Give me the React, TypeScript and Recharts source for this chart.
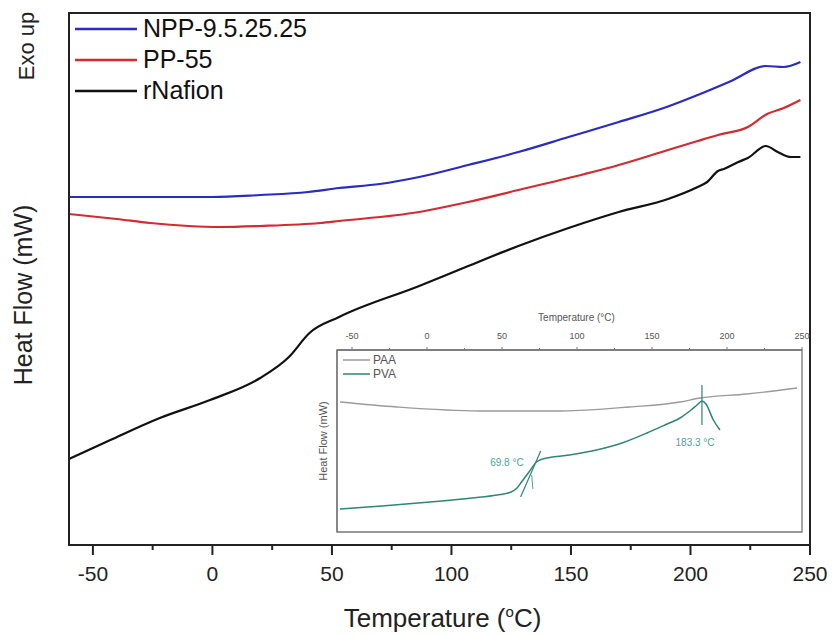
import React from "react";
import {
  LineChart,
  Line,
  XAxis,
  YAxis,
  Legend,
  ReferenceArea,
  ReferenceLine,
  ReferenceDot,
} from "recharts";

// main DSC traces (heat flow, arbitrary offset units, exo up)
const nppTemp = [-60, -40, -20, 0, 20, 40, 53, 70, 86.5, 107, 128, 149, 170, 190, 203, 217, 231.5, 239, 246];
const nppFlow = [3.48, 3.48, 3.48, 3.48, 3.5, 3.53, 3.57, 3.61, 3.68, 3.8, 3.93, 4.08, 4.23, 4.38, 4.5, 4.64, 4.79, 4.78, 4.83];

const pp55Temp = [-60, -40, -26, -10, 3, 20, 45, 53, 86.5, 107, 128, 149, 170, 190.6, 203, 211.5, 224, 232, 239, 246];
const pp55Flow = [3.31, 3.26, 3.22, 3.19, 3.18, 3.19, 3.22, 3.24, 3.33, 3.43, 3.55, 3.67, 3.8, 3.95, 4.04, 4.1, 4.18, 4.31, 4.37, 4.45];

const nafTemp = [-60, -42.7, -22, -1, 20, 32, 40.6, 53, 86.5, 107, 128, 149, 170, 190.6, 203, 207, 211.5, 214, 220, 224, 231.5, 236.5, 242, 246];
const nafFlow = [0.86, 1.05, 1.27, 1.45, 1.67, 1.88, 2.12, 2.28, 2.59, 2.79, 2.99, 3.17, 3.33, 3.46, 3.58, 3.63, 3.74, 3.76, 3.83, 3.87, 3.99, 3.93, 3.88, 3.88];

// inset traces
const paaTemp = [-58, -20, 35, 90, 135, 168.7, 182, 213, 246.7];
const paaFlow = [13.0, 12.5, 12.1, 12.1, 12.5, 13.0, 13.4, 13.8, 14.4];

const pvaTemp = [-58, -30, 2, 30, 46.7, 56, 60, 63, 68, 73, 77, 95, 113, 130, 146.7, 160, 168.7, 176, 180, 183.3, 186, 190.9, 195.3];
const pvaFlow = [2.3, 2.6, 3.0, 3.4, 3.7, 4.0, 4.4, 5.0, 6.0, 7.0, 7.3, 7.7, 8.2, 8.9, 9.9, 10.8, 11.4, 12.2, 12.7, 13.1, 12.8, 11.2, 10.2];

// tangent / marker segments drawn in the inset
const tgLineTemp = [62.4, 75.8];
const tgLineFlow = [3.5, 8.1];
const tgMarkTemp = [69.8, 70.6];
const tgMarkFlow = [5.7, 4.3];
const peakTemp = [183.3, 183.3];
const peakFlow = [10.7, 14.7];

const noteText = ["69.8 °C", "183.3 °C"];
const noteTemp = [53.3, 178.7];
const noteFlow = [7.0, 9.0];

const majorTicks = [-50, 0, 50, 100, 150, 200, 250];
const minorTicks = [-25, 25, 75, 125, 175, 225];
const allTicks = [...majorTicks, ...minorTicks].sort((a, b) => a - b);

const toPoints = (temps: number[], flows: number[]) =>
  temps.map((t, i) => ({ temp: t, flow: flows[i] }));

const nppData = toPoints(nppTemp, nppFlow);
const pp55Data = toPoints(pp55Temp, pp55Flow);
const nafData = toPoints(nafTemp, nafFlow);
const paaData = toPoints(paaTemp, paaFlow);
const pvaData = toPoints(pvaTemp, pvaFlow);

const seg = (temps: number[], flows: number[]) =>
  temps.map((t, i) => ({ x: t, y: flows[i] }));

const SANS = '"Liberation Sans", Arial, sans-serif';
const NARROW = '"Liberation Sans Narrow", "Liberation Sans", Arial, sans-serif';

const MainXTick = ({ x, y, payload }: any) => {
  const major = majorTicks.includes(payload.value);
  return (
    <g>
      <line x1={x} x2={x} y1={y} y2={y + (major ? 10 : 5)} stroke="#222" strokeWidth={2} />
      {major && (
        <text x={x} y={y + 36} textAnchor="middle" fontSize={21} fill="#222" fontFamily={NARROW}>
          {payload.value}
        </text>
      )}
    </g>
  );
};

const InsetXTick = ({ x, y, payload }: any) => {
  const major = majorTicks.includes(payload.value);
  return (
    <g>
      <line x1={x} x2={x} y1={y} y2={y - (major ? 3 : 2)} stroke="#777" strokeWidth={1} />
      {major && (
        <text x={x} y={y - 11} textAnchor="middle" fontSize={9} fill="#555">
          {payload.value}
        </text>
      )}
    </g>
  );
};

const MainXTitle = (props: any) => {
  const vb = props.viewBox ?? { x: 69, y: 545, width: 741, height: 92 };
  const cx = vb.x + vb.width / 2 + 3;
  return (
    <text x={cx} y={vb.y + 82} textAnchor="middle" fontSize={26} fill="#222">
      <tspan>Temperature (</tspan>
      <tspan dy={-10} fontSize={15}>o</tspan>
      <tspan dy={10}>C)</tspan>
    </text>
  );
};

const MainYTitles = (props: any) => {
  const vb = props.viewBox ?? { x: 0, y: 13, width: 69, height: 532 };
  const cy = vb.y + vb.height / 2 + 16;
  const ex = vb.x + 34;
  const ey = vb.y + 33;
  const hx = vb.x + 32;
  return (
    <g fill="#222">
      <text x={ex} y={ey} fontSize={22} textAnchor="middle" transform={`rotate(-90, ${ex}, ${ey})`}>
        Exo up
      </text>
      <text x={hx} y={cy} fontSize={25} textAnchor="middle" transform={`rotate(-90, ${hx}, ${cy})`}>
        Heat Flow (mW)
      </text>
    </g>
  );
};

const InsetXTitle = (props: any) => {
  const vb = props.viewBox ?? { x: 37, y: 0, width: 465, height: 50 };
  return (
    <text x={vb.x + vb.width / 2 + 7} y={vb.y + 21} textAnchor="middle" fontSize={10} fill="#555">
      Temperature (°C)
    </text>
  );
};

const InsetYTitle = (props: any) => {
  const vb = props.viewBox ?? { x: 0, y: 50, width: 37, height: 182 };
  const x = vb.x + 27;
  const y = vb.y + vb.height / 2;
  return (
    <text x={x} y={y} textAnchor="middle" fontSize={11} fill="#555" transform={`rotate(-90, ${x}, ${y})`}>
      Heat Flow (mW)
    </text>
  );
};

const MainLegend = ({ payload }: any) => (
  <div>
    {(payload ?? []).map((p: any) => (
      <div key={p.value} style={{ display: "flex", alignItems: "center", height: 31 }}>
        <svg width={68} height={6}>
          <line x1={0} x2={62} y1={3} y2={3} stroke={p.color} strokeWidth={2.5} />
        </svg>
        <span style={{ fontSize: 25, color: "#111", lineHeight: "31px", fontFamily: SANS }}>{p.value}</span>
      </div>
    ))}
  </div>
);

const InsetLegend = ({ payload }: any) => (
  <div>
    {(payload ?? []).map((p: any) => (
      <div key={p.value} style={{ display: "flex", alignItems: "center", height: 14 }}>
        <svg width={30} height={4}>
          <line x1={0} x2={27} y1={2} y2={2} stroke={p.color} strokeWidth={1.5} />
        </svg>
        <span style={{ fontSize: 12, color: "#555", lineHeight: "14px", fontFamily: SANS }}>{p.value}</span>
      </div>
    ))}
  </div>
);

const Inset = () => (
  <div style={{ position: "absolute", left: 300, top: 300, width: 510, height: 237 }}>
    <LineChart width={510} height={237} margin={{ top: 0, right: 8, bottom: 5, left: 0 }}>
      <ReferenceArea x1={-60} x2={250} y1={0} y2={18.2} fill="#fff" fillOpacity={1} stroke="#777" strokeWidth={1.3} />
      <XAxis
        dataKey="temp"
        type="number"
        orientation="top"
        domain={[-60, 250]}
        ticks={allTicks}
        interval={0}
        allowDataOverflow
        height={50}
        tickSize={0}
        tickMargin={0}
        tickLine={false}
        tick={<InsetXTick />}
        axisLine={{ stroke: "#777", strokeWidth: 1.3 }}
        label={<InsetXTitle />}
      />
      <YAxis
        type="number"
        domain={[0, 18.2]}
        allowDataOverflow
        width={37}
        tick={false}
        tickLine={false}
        axisLine={{ stroke: "#777", strokeWidth: 1.3 }}
        label={<InsetYTitle />}
      />
      <Legend
        layout="vertical"
        align="center"
        verticalAlign="middle"
        wrapperStyle={{ top: 53, left: 43, width: "auto" }}
        content={<InsetLegend />}
      />
      <Line data={paaData} dataKey="flow" name="PAA" type="monotone" stroke="#9a9a9a" strokeWidth={1.3} dot={false} isAnimationActive={false} />
      <Line data={pvaData} dataKey="flow" name="PVA" type="monotone" stroke="#2f8577" strokeWidth={1.5} dot={false} isAnimationActive={false} />
      <ReferenceLine segment={seg(tgLineTemp, tgLineFlow)} stroke="#2f8577" strokeWidth={1.2} ifOverflow="visible" />
      <ReferenceLine segment={seg(tgMarkTemp, tgMarkFlow)} stroke="#2f8577" strokeWidth={0.8} ifOverflow="visible" />
      <ReferenceLine segment={seg(peakTemp, peakFlow)} stroke="#2f8577" strokeWidth={1.2} ifOverflow="visible" />
      {noteText.map((t, i) => (
        <ReferenceDot
          key={t}
          x={noteTemp[i]}
          y={noteFlow[i]}
          r={0}
          stroke="none"
          fill="none"
          label={{ value: t, position: "center", fontSize: 10, fill: "#4aa597" }}
        />
      ))}
    </LineChart>
  </div>
);

export default function App() {
  return (
    <div
      style={{
        position: "absolute",
        left: 0,
        top: 0,
        width: 833,
        height: 637,
        background: "#fff",
        fontFamily: SANS,
      }}>
      <LineChart width={833} height={637} margin={{ top: 13, right: 23, bottom: 0, left: 0 }}>
        <ReferenceArea x1={-60} x2={250} y1={0} y2={5.32} fill="none" stroke="#222" strokeWidth={2} />
        <XAxis
          dataKey="temp"
          type="number"
          domain={[-60, 250]}
          ticks={allTicks}
          interval={0}
          allowDataOverflow
          height={92}
          tickSize={0}
          tickMargin={0}
          tickLine={false}
          tick={<MainXTick />}
          axisLine={{ stroke: "#222", strokeWidth: 2 }}
          label={<MainXTitle />}
        />
        <YAxis
          type="number"
          domain={[0, 5.32]}
          allowDataOverflow
          width={69}
          tick={false}
          tickLine={false}
          axisLine={{ stroke: "#222", strokeWidth: 2 }}
          label={<MainYTitles />}
        />
        <Legend
          layout="vertical"
          align="center"
          verticalAlign="middle"
          wrapperStyle={{ top: 13, left: 75, width: "auto" }}
          content={<MainLegend />}
        />
        <Line data={nppData} dataKey="flow" name="NPP-9.5.25.25" type="monotone" stroke="#2a2ac4" strokeWidth={2.2} dot={false} isAnimationActive={false} />
        <Line data={pp55Data} dataKey="flow" name="PP-55" type="monotone" stroke="#d42a30" strokeWidth={2.2} dot={false} isAnimationActive={false} />
        <Line data={nafData} dataKey="flow" name="rNafion" type="monotone" stroke="#111" strokeWidth={2.2} dot={false} isAnimationActive={false} />
      </LineChart>
      <Inset />
    </div>
  );
}
